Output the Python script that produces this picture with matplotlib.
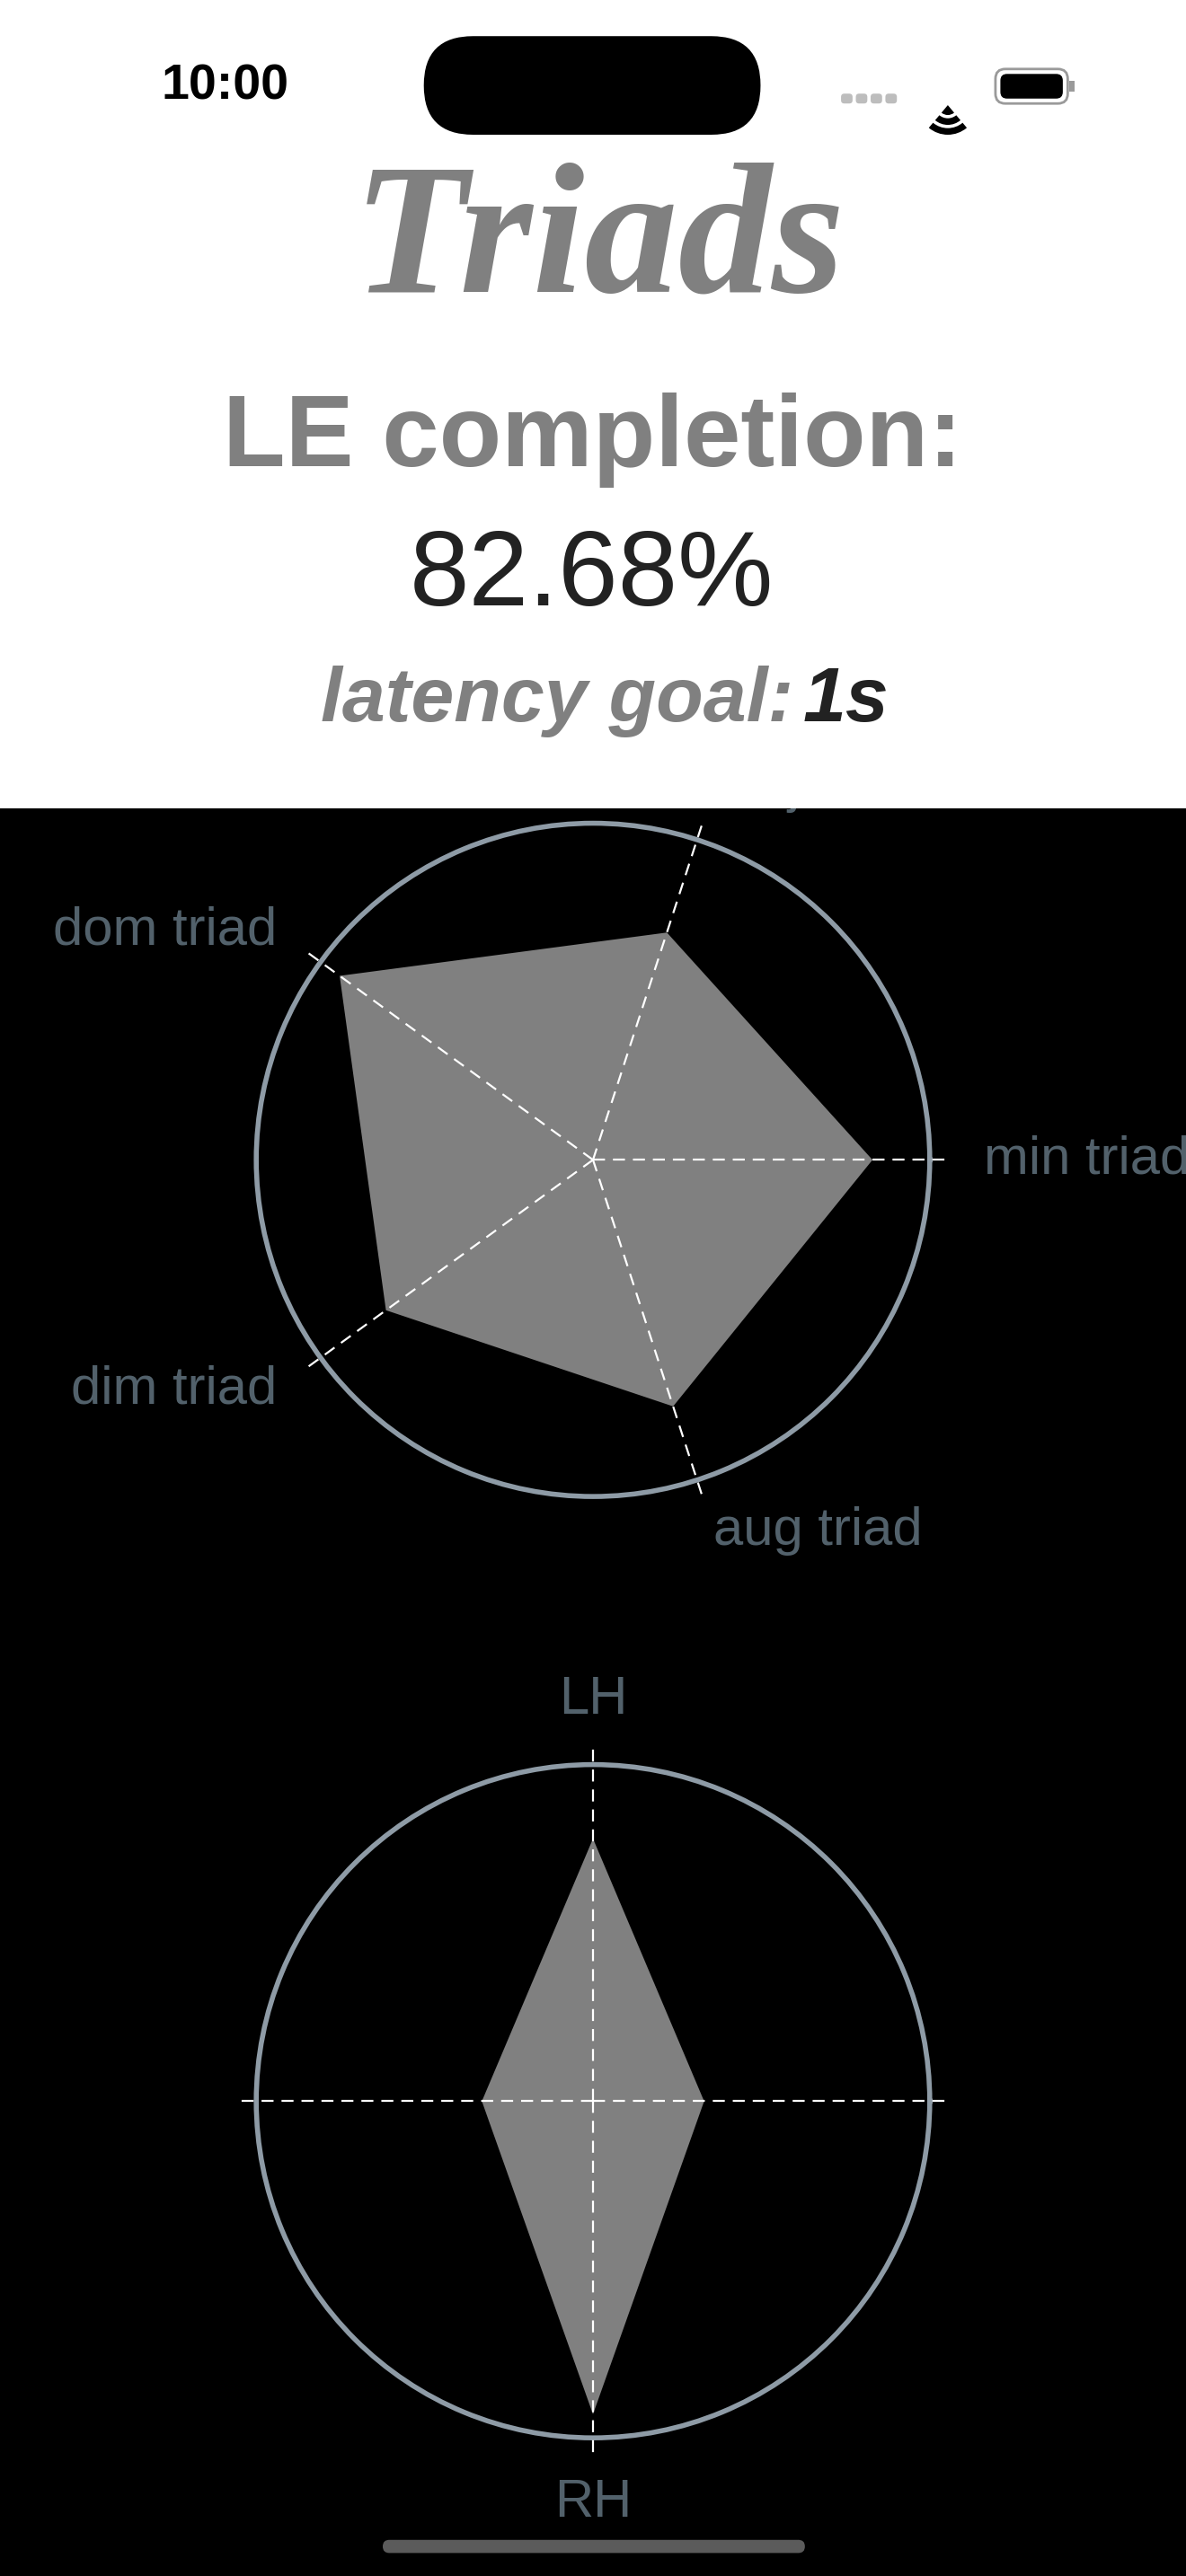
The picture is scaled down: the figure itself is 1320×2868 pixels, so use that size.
import numpy as np
import matplotlib.pyplot as plt
from matplotlib.patches import FancyBboxPatch, Rectangle, Wedge

# chart values
triad_labels = ["min triad", "maj triad", "dom triad", "dim triad", "aug triad"]
triad_values = [0.83, 0.71, 0.93, 0.76, 0.77]
hand_labels = ["", "LH", "", "RH"]
hand_values = [0.33, 0.78, 0.33, 0.93]

title = "Triads"
completion_label = "LE completion:"
completion_value = "82.68%"
latency_label = "latency goal:"
latency_value = "1s"

W, H = 722, 1568  # reference layout units
TOP = 492
GRAY = "#808080"
RING = "#8e9ba6"
LABEL = "#52616b"
FONT = ["Liberation Sans", "DejaVu Sans"]

fig = plt.figure(figsize=(13.2, 28.68), dpi=100)
fig.patch.set_facecolor("black")

# background layer (black) with home indicator
bg = fig.add_axes([0, 0, 1, 1], zorder=0)
bg.set_xlim(0, W)
bg.set_ylim(H, 0)
bg.set_facecolor("black")
bg.axis("off")
bg.add_patch(FancyBboxPatch((233, 1546), 257, 8, boxstyle="round,pad=0,rounding_size=4",
                            fc="#5b5b5b", ec="none"))


def radar(rect, labels, values, label_r=1.16):
    ax = fig.add_axes(rect, projection="polar", zorder=1)
    ax.set_facecolor("none")
    n = len(values)
    ang = np.arange(n) * 2 * np.pi / n
    ax.fill(np.append(ang, ang[0]), values + values[:1], color=GRAY, lw=0, zorder=2)
    for a in ang:
        ax.plot([a, a], [0, 1.05], color="white", lw=1.6, ls=(0, (6, 4)),
                clip_on=False, zorder=3)
    for a, lab in zip(ang, labels):
        if not lab:
            continue
        c, s = np.cos(a), np.sin(a)
        ha = "center" if abs(c) < 0.1 else ("left" if c > 0 else "right")
        va = "center" if abs(s) < 0.1 else ("bottom" if s > 0 else "top")
        if ha != "center" and va != "center":
            va = "center"
        ax.text(a, label_r, lab, ha=ha, va=va, color=LABEL, fontsize=43,
                family=FONT, clip_on=False)
    ax.set_ylim(0, 1)
    ax.set_xticks([])
    ax.set_yticks([])
    ax.grid(False)
    ax.spines["polar"].set_color(RING)
    ax.spines["polar"].set_linewidth(4)
    return ax


rw, rh = 410 / W, 410 / H
radar([0.5 - rw / 2, (H - 706) / H - rh / 2, rw, rh], triad_labels, triad_values)
radar([0.5 - rw / 2, (H - 1279) / H - rh / 2, rw, rh], hand_labels, hand_values, label_r=1.12)

# white header panel
top = fig.add_axes([0, 1 - TOP / H, 1, TOP / H], zorder=5)
top.set_xlim(0, W)
top.set_ylim(TOP, 0)
top.set_facecolor("white")
top.set_xticks([])
top.set_yticks([])
for s in top.spines.values():
    s.set_visible(False)

# status bar
top.text(137, 53, "10:00", ha="center", va="center", fontsize=40, weight="bold", family=FONT)
top.add_patch(FancyBboxPatch((258, 22), 205, 60, boxstyle="round,pad=0,rounding_size=30",
                             fc="black", ec="none"))
for i in range(4):
    top.add_patch(FancyBboxPatch((512 + i * 9, 57), 7, 6, boxstyle="round,pad=0,rounding_size=2",
                                 fc="#bdbdbd", ec="none"))
for r in (18, 12, 6):
    top.add_patch(Wedge((577, 64), r, 50, 130, width=4 if r > 6 else None, fc="black", ec="none"))
top.add_patch(FancyBboxPatch((606, 42), 44, 21, boxstyle="round,pad=0,rounding_size=6",
                             fc="none", ec="#9a9a9a", lw=2))
top.add_patch(FancyBboxPatch((609, 45), 38, 15, boxstyle="round,pad=0,rounding_size=4",
                             fc="black", ec="none"))
top.add_patch(Rectangle((651, 49), 3, 7, fc="#9a9a9a", ec="none"))

# header text
top.text(365, 150, title, ha="center", va="center", fontsize=150, weight="bold",
         style="italic", family=["Liberation Serif", "DejaVu Serif"], color=GRAY)
top.text(361, 268, completion_label, ha="center", va="center", fontsize=82,
         weight="bold", family=FONT, color=GRAY)
top.text(360, 352, completion_value, ha="center", va="center", fontsize=86,
         family=FONT, color="#222222")
t1 = top.text(483, 427, latency_label, ha="right", va="center", fontsize=62,
              weight="bold", style="italic", family=FONT, color=GRAY)
top.text(489, 427, latency_value, ha="left", va="center", fontsize=62,
         weight="bold", style="italic", family=FONT, color="#222222")

fig.savefig("out.png", dpi=100, facecolor="black")
